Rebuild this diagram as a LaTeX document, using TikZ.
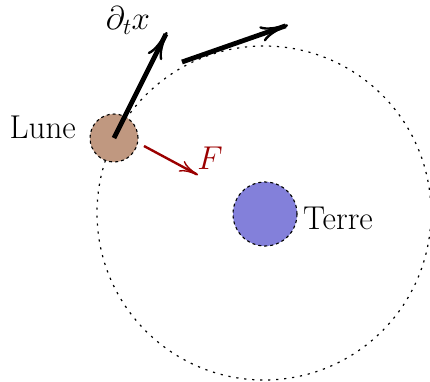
\RequirePackage{fix-cm}
\documentclass[tikz,border=0pt]{standalone}
\usetikzlibrary{arrows.meta}
\definecolor{moonc}{RGB}{192,152,128}
\definecolor{earthc}{RGB}{131,128,218}
\definecolor{forcec}{RGB}{155,0,0}
\tikzset{
  lbl/.style={font=\fontsize{33}{38}\selectfont, inner sep=0pt},
  body/.style={circle, draw=black, line width=1.1pt, dash pattern=on 3pt off 3pt, inner sep=0pt},
  orbit/.style={line width=1.2pt, dash pattern=on 2.2pt off 5.8pt},
  vel/.style={line width=4.8pt, -{To[length=28pt,width=16pt,line width=2.4pt]}},
  force/.style={forcec, line width=2.4pt, -{To[length=19pt,width=12pt,line width=1.4pt]}}
}
\begin{document}
\begin{tikzpicture}[x=1pt,y=-1pt]
\useasboundingbox (0,0) rectangle (430,381);
\coordinate (c) at (264,213);
\draw[orbit] (c) circle[radius=167];
\node[body, fill=moonc, minimum size=48pt] (moon) at (114,138) {};
\node[body, fill=earthc, minimum size=64pt] (earth) at (265,214) {};
\node[lbl, anchor=east] (lune) at (76,127) {Lune};
\node[lbl, anchor=west] (terre) at (303,218) {Terre};
\coordinate (v1) at (167,32);
\coordinate (v2a) at (182,62);
\coordinate (v2b) at (288,25);
\coordinate (fa) at (144,146);
\coordinate (fb) at (198,175);
\draw[vel] (moon.center) -- (v1);
\draw[vel] (v2a) -- (v2b);
\draw[force] (fa) -- (fb);
\node[lbl] (dx) at (128,21) {$\partial_t x$};
\node[lbl, text=forcec] (F) at (210,158) {$F$};
\end{tikzpicture}
\end{document}
